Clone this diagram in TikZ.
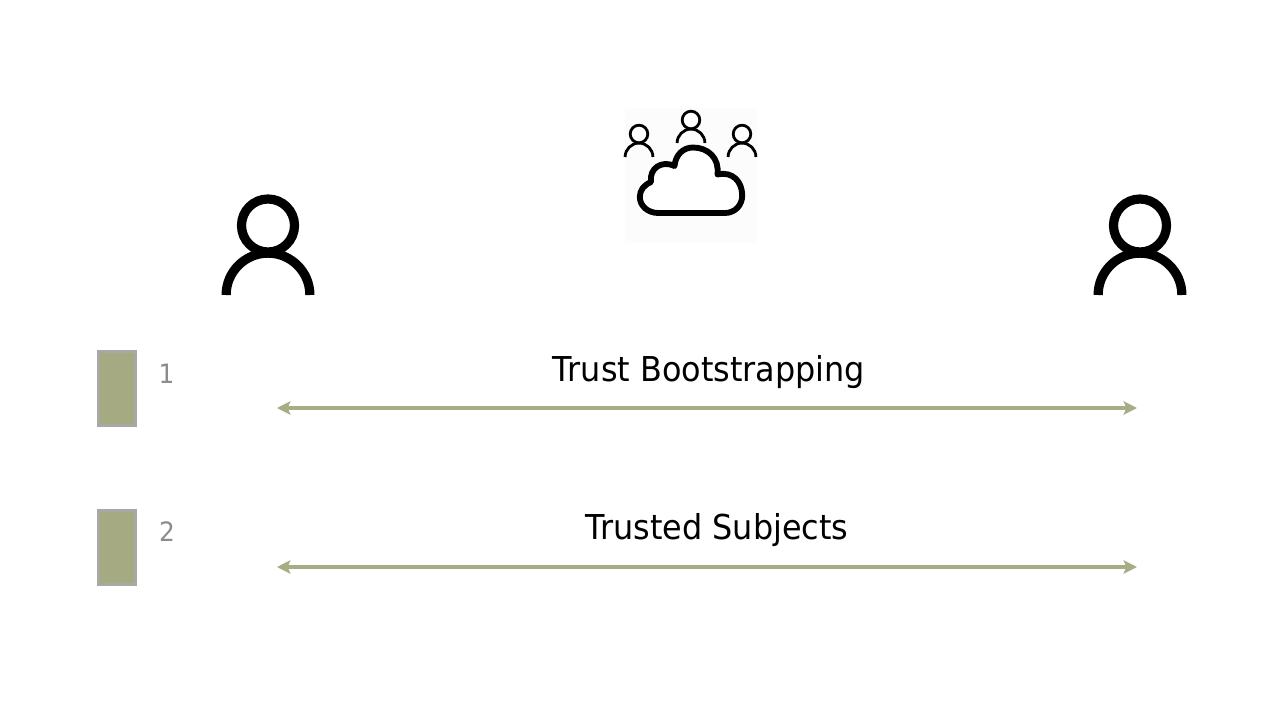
\documentclass[tikz,border=0pt]{standalone}
\usepackage{fontspec}
\setmainfont[FakeStretch=0.93]{DejaVu Sans}
\usetikzlibrary{arrows.meta}
\definecolor{olive}{HTML}{A6AD85}
\definecolor{boxfill}{HTML}{A5AA82}
\definecolor{boxedge}{HTML}{A8A8A4}
\definecolor{numgray}{HTML}{8C8C8C}
\definecolor{pale}{HTML}{FCFCFC}
\tikzset{
  px/.style={x=0.75pt,y=-0.75pt},
  stepbox/.style={draw=boxedge,fill=boxfill,line width=2.25pt,minimum width=28pt,minimum height=56pt,inner sep=0pt},
  numlabel/.style={text=numgray,font=\fontsize{20}{22}\selectfont,inner sep=0pt},
  msglabel/.style={text=black,font=\fontsize{25.7}{28}\selectfont,inner sep=0pt},
  msgarrow/.style={draw=olive,line width=3.3pt,{Stealth[length=10pt,width=10pt,inset=2pt]}-{Stealth[length=10pt,width=10pt,inset=2pt]}},
  iconline/.style={draw=black,line cap=butt,line join=round}
}
\newcommand{\personicon}[5]{% cx, head cy, head r, body bottom y, stroke(px)
  \draw[iconline,line width=#5*0.75pt] (#1-#3*1.58,#4) arc[start angle=180,end angle=0,radius=#3*1.58*0.75pt];
  \draw[iconline,fill=white,line width=#5*0.75pt] (#1,#2) circle[radius=#3*0.75pt];
}
\begin{document}
\begin{tikzpicture}[px]
\useasboundingbox (0,0) rectangle (1280,720);
\fill[white] (0,0) rectangle (1280,720);
\fill[pale] (625,108) rectangle (757,243);
% large persons
\personicon{268}{225.5}{26.5}{295}{9.2}
\personicon{1140}{225.5}{26.5}{295}{9.2}
% small persons
\personicon{639}{134}{8.8}{157}{2.8}
\personicon{691}{120}{8.8}{143}{2.8}
\personicon{742}{134}{8.8}{157}{2.8}
% cloud
\draw[iconline,fill=white,line width=4.4pt]
  (658.3,213) -- (725,213)
  .. controls (735,213) and (742.5,205) .. (742.2,195)
  .. controls (742,182) and (733,171) .. (717.5,174.5)
  .. controls (719.5,158) and (708,147.5) .. (693,147.5)
  .. controls (683,147.5) and (675.5,155) .. (674.5,166)
  .. controls (662,160) and (649,168) .. (651,182)
  .. controls (644,185) and (639.8,190) .. (639.8,197)
  .. controls (639.8,206) and (648,213) .. (658.3,213) -- cycle;
% step boxes
\node[stepbox] (box1) at (117,388.5) {};
\node[stepbox] (box2) at (117,547.5) {};
\node[numlabel] (n1) at (166.5,374) {1};
\node[numlabel] (n2) at (167,532) {2};
% messages
\node[msglabel] (t1) at (709,372) {Trust Bootstrapping};
\node[msglabel] (t2) at (717,530) {Trusted Subjects};
\coordinate (a1) at (277,408);
\coordinate (b1) at (1137,408);
\coordinate (a2) at (277,567);
\coordinate (b2) at (1137,567);
\draw[msgarrow] (a1) -- (b1);
\draw[msgarrow] (a2) -- (b2);
\end{tikzpicture}
\end{document}
